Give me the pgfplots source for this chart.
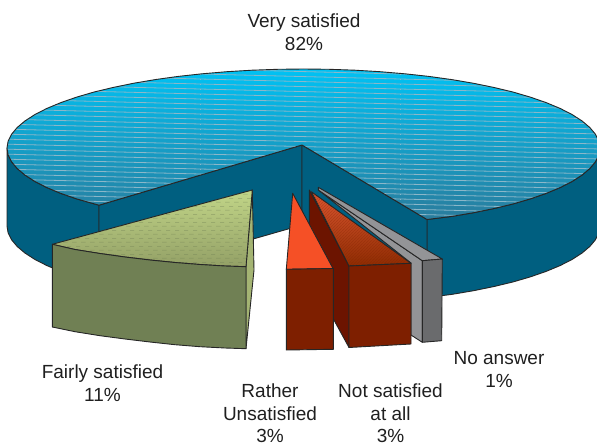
\documentclass[border=0pt]{standalone}
\usepackage{fontspec}
\setmainfont{Liberation Sans}
\usepackage{pgfplots}
\usetikzlibrary{patterns}
\pgfplotsset{compat=1.18}
\definecolor{wall}{HTML}{005F80}
\definecolor{edge}{HTML}{262626}
\definecolor{bluetop}{HTML}{00C2F4}
\definecolor{bluebot}{HTML}{2A7C9C}
\definecolor{greentop}{HTML}{C2D688}
\definecolor{greenbot}{HTML}{93A066}
\definecolor{greenfront}{HTML}{708054}
\definecolor{greenside}{HTML}{A4B473}
\definecolor{orangetop}{HTML}{F55026}
\definecolor{redblock}{HTML}{7E1F00}
\definecolor{redside}{HTML}{6C1400}
\definecolor{redtop}{HTML}{DC5630}
\definecolor{redbot}{HTML}{8E2C02}
\definecolor{greylight}{HTML}{939497}
\definecolor{greydark}{HTML}{6A6B6D}
\pgfdeclarepatternformonly{bluestripes}{\pgfqpoint{0pt}{-1pt}}{\pgfqpoint{200pt}{6pt}}{\pgfqpoint{200pt}{5pt}}{%
  \pgfsetlinewidth{0.8pt}\pgfpathmoveto{\pgfqpoint{0pt}{5pt}}\pgfpathlineto{\pgfqpoint{200pt}{0pt}}\pgfusepath{stroke}%
  \pgfpathmoveto{\pgfqpoint{0pt}{0pt}}\pgfpathlineto{\pgfqpoint{0.1pt}{0pt}}\pgfusepath{stroke}}
\pgfdeclarepatternformonly{greendash}{\pgfqpoint{0pt}{0pt}}{\pgfqpoint{9pt}{8pt}}{\pgfqpoint{9pt}{8pt}}{%
  \pgfsetlinewidth{0.8pt}\pgfpathmoveto{\pgfqpoint{0pt}{2pt}}\pgfpathlineto{\pgfqpoint{5pt}{2pt}}\pgfusepath{stroke}%
  \pgfpathmoveto{\pgfqpoint{4.5pt}{6pt}}\pgfpathlineto{\pgfqpoint{9pt}{6pt}}\pgfusepath{stroke}}
\pgfdeclarepatternformonly{redhatch}{\pgfqpoint{0pt}{0pt}}{\pgfqpoint{3pt}{3pt}}{\pgfqpoint{3pt}{3pt}}{%
  \pgfsetlinewidth{0.7pt}\pgfpathmoveto{\pgfqpoint{-0.5pt}{-0.5pt}}\pgfpathlineto{\pgfqpoint{3.5pt}{3.5pt}}\pgfusepath{stroke}}
\newcommand{\lab}[3]{\node[anchor=base,inner sep=0pt,font=\fontsize{19pt}{22pt}\selectfont,text=black!88] at (axis cs:#1,#2) {#3};}
\begin{document}
\begin{tikzpicture}
\useasboundingbox (0,0) rectangle (597pt,444pt);
\begin{axis}[
  at={(0,0)}, anchor=south west,
  scale only axis, width=597pt, height=444pt,
  xmin=0, xmax=597, ymin=0, ymax=444, y dir=reverse,
  hide axis,
  every axis plot/.append style={line width=0.9pt, line join=round, draw=edge, mark=none},
]
% outer wall, right
\addplot[fill=wall] coordinates {(427,219.5)(451.8,216.4)(473.6,212.7)(494.1,208.5)(513.2,203.9)(530.6,198.8)(546.4,193.3)(560.3,187.5)(572.2,181.4)(582.1,175)(589.9,168.4)(595.5,161.7)(598.9,154.9)(600,148)
 (600,226)(598.9,232.9)(595.5,239.7)(589.9,246.4)(582.1,253)(572.2,259.4)(560.3,265.5)(546.4,271.3)(530.6,276.8)(513.2,281.9)(494.1,286.5)(473.6,290.7)(451.8,294.4)(427,297.5)} -- cycle;
% outer wall, left
\addplot[fill=wall] coordinates {(7,148)(8.1,154.9)(11.5,161.7)(17.1,168.4)(24.9,175)(34.8,181.4)(46.7,187.5)(60.6,193.3)(76.4,198.8)(99,205.2)
 (99,283.2)(76.4,276.8)(60.6,271.3)(46.7,265.5)(34.8,259.4)(24.9,253)(17.1,246.4)(11.5,239.7)(8.1,232.9)(7,226)} -- cycle;
% inner walls
\addplot[fill=wall] coordinates {(99,205.2)(302,145)(302,225)(99,283.2)} -- cycle;
\addplot[fill=wall] coordinates {(302,145)(427,219.5)(427,297.5)(302,225)} -- cycle;
% top of the large slice
\addplot[top color=bluetop,bottom color=bluebot,draw=none]
 coordinates {(427,219.5)(451.8,216.4)(473.6,212.7)(494.1,208.5)(513.2,203.9)(530.6,198.8)(546.4,193.3)(560.3,187.5)(572.2,181.4)(582.1,175)(589.9,168.4)(595.5,161.7)(598.9,154.9)(600,148)(598.9,141.1)(595.5,134.3)(589.9,127.6)(582.1,121)(572.2,114.6)(560.3,108.5)(546.4,102.7)(530.6,97.2)(513.2,92.1)(494.1,87.5)(473.6,83.3)(451.8,79.6)(428.8,76.4)(404.9,73.8)(380.2,71.7)(355,70.2)(329.4,69.3)(303.5,69)(277.6,69.3)(252,70.2)(226.8,71.7)(202.1,73.8)(178.2,76.4)(155.2,79.6)(133.4,83.3)(112.9,87.5)(93.8,92.1)(76.4,97.2)(60.6,102.7)(46.7,108.5)(34.8,114.6)(24.9,121)(17.1,127.6)(11.5,134.3)(8.1,141.1)(7,148)(8.1,154.9)(11.5,161.7)(17.1,168.4)(24.9,175)(34.8,181.4)(46.7,187.5)(60.6,193.3)(76.4,198.8)(99,205.2)(302,145)} -- cycle;
\addplot[pattern=bluestripes,pattern color=white!45!bluebot,fill opacity=0.45]
 coordinates {(427,219.5)(451.8,216.4)(473.6,212.7)(494.1,208.5)(513.2,203.9)(530.6,198.8)(546.4,193.3)(560.3,187.5)(572.2,181.4)(582.1,175)(589.9,168.4)(595.5,161.7)(598.9,154.9)(600,148)(598.9,141.1)(595.5,134.3)(589.9,127.6)(582.1,121)(572.2,114.6)(560.3,108.5)(546.4,102.7)(530.6,97.2)(513.2,92.1)(494.1,87.5)(473.6,83.3)(451.8,79.6)(428.8,76.4)(404.9,73.8)(380.2,71.7)(355,70.2)(329.4,69.3)(303.5,69)(277.6,69.3)(252,70.2)(226.8,71.7)(202.1,73.8)(178.2,76.4)(155.2,79.6)(133.4,83.3)(112.9,87.5)(93.8,92.1)(76.4,97.2)(60.6,102.7)(46.7,108.5)(34.8,114.6)(24.9,121)(17.1,127.6)(11.5,134.3)(8.1,141.1)(7,148)(8.1,154.9)(11.5,161.7)(17.1,168.4)(24.9,175)(34.8,181.4)(46.7,187.5)(60.6,193.3)(76.4,198.8)(99,205.2)(302,145)} -- cycle;
% grey slice
\addplot[fill=greylight] coordinates {(318.3,190)(422.3,260.7)(422.3,342.3)(411,335)(411,263)} -- cycle;
\addplot[fill=greylight] coordinates {(318.3,187.3)(442.3,259)(422.3,260.7)(318.3,190)} -- cycle;
\addplot[fill=greydark] coordinates {(422.3,260.7)(442.3,259)(441.7,340.7)(422.3,342.3)} -- cycle;
% dark red slice
\addplot[fill=redside] coordinates {(309.3,190)(349,266)(349,347.5)(309.3,275)} -- cycle;
\addplot[top color=redtop,bottom color=redbot] coordinates {(311.3,191.7)(349,266)(411,263.3)} -- cycle;
\addplot[pattern=redhatch,pattern color=redblock,fill opacity=0.3,draw=none] coordinates {(311.3,191.7)(349,266)(411,263.3)} -- cycle;
\addplot[fill=redblock] coordinates {(349,266)(411,263.3)(411,344)(349,347.5)} -- cycle;
% orange slice
\addplot[fill=orangetop] coordinates {(292.7,193.3)(333,268.5)(286.3,269.3)} -- cycle;
\addplot[fill=redblock] coordinates {(286.3,269.3)(333.3,268.5)(333.3,349.3)(286.3,350)} -- cycle;
% green slice
\addplot[fill=greenside] coordinates {(252.3,190)(254,270)(246,348.7)(246,266.7)} -- cycle;
\addplot[top color=greentop,bottom color=greenbot] coordinates {(252.3,190)(52.3,244.3)(75,249.5)(100,253.5)(125,257)(150,260)(175,262.5)(200,264.5)(225,266)(246,266.7)} -- cycle;
\addplot[pattern=greendash,pattern color=greenfront,fill opacity=0.35,draw=none] coordinates {(252.3,190)(52.3,244.3)(75,249.5)(100,253.5)(125,257)(150,260)(175,262.5)(200,264.5)(225,266)(246,266.7)} -- cycle;
\addplot[fill=greenfront] coordinates {(52.3,244.3)(75,249.5)(100,253.5)(125,257)(150,260)(175,262.5)(200,264.5)(225,266)(246,266.7)
 (246,348.7)(225,348)(200,346.7)(175,344.7)(150,342)(125,339)(100,335.7)(75,331.7)(52.3,327)} -- cycle;
% labels
\lab{304}{27.3}{Very satisfied}
\lab{304}{50.7}{82\%}
\lab{102.5}{378.3}{Fairly satisfied}
\lab{102.5}{401.7}{11\%}
\lab{270}{397}{Rather}
\lab{270}{420}{Unsatisfied}
\lab{270}{442}{3\%}
\lab{390.5}{397}{Not satisfied}
\lab{390.5}{420}{at all}
\lab{390.5}{442}{3\%}
\lab{499}{364}{No answer}
\lab{499}{387.3}{1\%}
\end{axis}
\end{tikzpicture}
\end{document}
